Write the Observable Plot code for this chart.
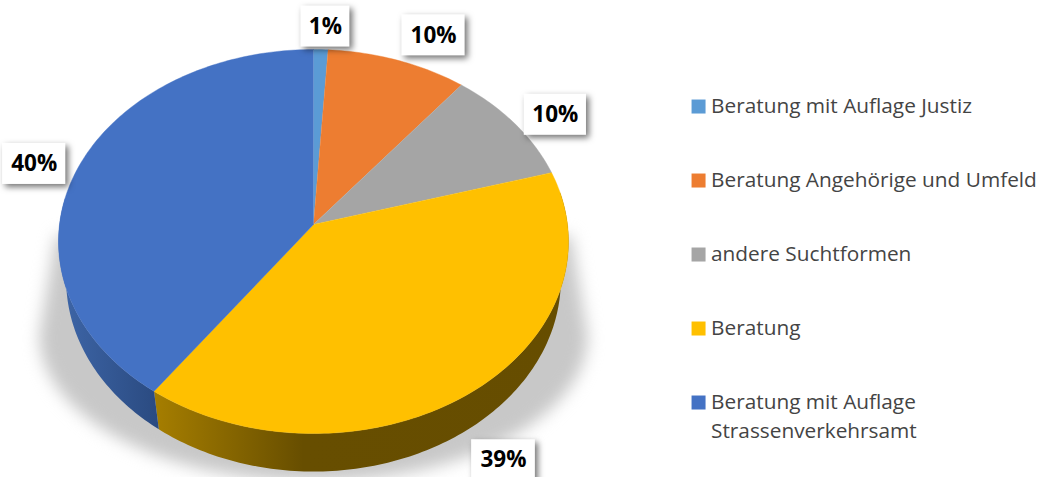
<!DOCTYPE html>
<html>
<head>
<meta charset="utf-8">
<style>
  html, body { margin: 0; padding: 0; background: #fff; overflow: hidden; }
  svg { display: block; }
</style>
<script src="https://cdn.jsdelivr.net/npm/d3@7"></script>
<script src="https://cdn.jsdelivr.net/npm/@observablehq/plot@0.6"></script>
</head>
<body>
<div id="chart"></div>
<script>
// --- data ---
const names = [
  "Beratung mit Auflage Justiz",
  "Beratung Angehörige und Umfeld",
  "andere Suchtformen",
  "Beratung",
  "Beratung mit Auflage\nStrassenverkehrsamt"
];
const shares = [1.0, 9.7, 9.8, 39.4, 40.1];
const colors = ["#5B9BD5", "#ED7D31", "#A5A5A5", "#FFC000", "#4472C4"];

// --- label placement relative to the rim, in chart units ---
const labelNudgeX = [0.018, 0.14, 0.16, 0.125, -0.172];
const labelNudgeY = [0.12, 0.13, 0.045, -0.355, 0.02];
const labelHalfWidth = [0.096, 0.124, 0.122, 0.125, 0.124];
const labelHalfHeight = 0.107;

// --- tilted-disc geometry: perspective shift of the centre and rim depth ---
const tilt = 0.0885;
const depthY = 0.198, depthX = 0.97;
const project = (deg) => {
  const t = deg * Math.PI / 180, u = Math.sin(t), v = Math.cos(t), d = 1 + tilt * v;
  return [u * Math.sqrt(1 - tilt * tilt) / d, (v + tilt) / d];
};
const cum = d3.cumsum(shares);
const total = cum[cum.length - 1];
const startDeg = shares.map((s, i) => (i ? cum[i - 1] : 0) / total * 360);
const endDeg = Array.from(cum, (c) => c / total * 360);
const arcDegs = (a, b) => d3.range(a, b, 1).concat([b]);

const topFaces = names.flatMap((name, i) => {
  const pts = arcDegs(startDeg[i], endDeg[i]).map((deg) => {
    const [x, y] = project(deg);
    return { name, x, y };
  });
  return [{ name, x: 0, y: tilt }, ...pts];
});

const side = (i) => {
  const degs = arcDegs(Math.max(startDeg[i], 80), Math.min(endDeg[i], 278));
  const upper = degs.map((deg) => { const [x, y] = project(deg); return { x, y }; });
  const lower = degs.slice().reverse().map((deg) => {
    const [x, y] = project(deg);
    return { x: x * depthX, y: y - depthY };
  });
  return upper.concat(lower);
};

const shadow = [{ x: -1.01, y: 0.03 }]
  .concat(d3.range(180, 361, 3).map((deg) => {
    const t = deg * Math.PI / 180;
    return { x: 1.075 * Math.cos(t), y: -0.49 + 0.76 * Math.sin(t) };
  }))
  .concat([{ x: 1.01, y: 0.03 }]);

const labels = names.map((name, i) => {
  const [x, y] = project((startDeg[i] + endDeg[i]) / 2);
  return {
    text: Math.round(shares[i]) + "%",
    x: x + labelNudgeX[i],
    y: y + labelNudgeY[i],
    hw: labelHalfWidth[i]
  };
});

const legend = names.map((name, i) => ({ name, x: 1.51, y: 0.703 - i * 0.3854 }));

const gradients = () => {
  const svg = d3.create("svg:defs");
  const add = (id, stops) => {
    const g = svg.append("linearGradient").attr("id", id);
    stops.forEach(([o, c]) => g.append("stop").attr("offset", o).attr("stop-color", c));
  };
  add("sideYellow", [["0%", "#a67e00"], ["36%", "#674e00"], ["100%", "#664d00"]]);
  add("sideBlue", [["0%", "#3e66a8"], ["100%", "#2a4a80"]]);
  return svg.node();
};

const fontFamily = "'Open Sans', sans-serif";

const chart = Plot.plot({
  width: 1041,
  height: 477,
  margin: 0,
  style: { background: "#fff", fontFamily },
  x: { domain: [-1, 1], range: [58, 568], axis: null },
  y: { domain: [-1, 1], range: [433, 49], axis: null },
  color: { domain: names, range: colors },
  marks: [
    gradients,
    Plot.line(shadow, {
      x: "x", y: "y", fill: "#c8c8c8", stroke: "none",
      imageFilter: "blur(8px)"
    }),
    Plot.line(side(3), { x: "x", y: "y", fill: "url(#sideYellow)", stroke: "none" }),
    Plot.line(side(4), { x: "x", y: "y", fill: "url(#sideBlue)", stroke: "none" }),
    Plot.line(topFaces, { x: "x", y: "y", z: "name", fill: "name", stroke: "name", strokeWidth: 0.4 }),
    Plot.rect(labels, {
      x1: (d) => d.x - d.hw, x2: (d) => d.x + d.hw,
      y1: (d) => d.y - labelHalfHeight, y2: (d) => d.y + labelHalfHeight,
      fill: "#fff",
      imageFilter: "drop-shadow(3px 3px 3px rgba(0,0,0,0.55))"
    }),
    Plot.text(labels, {
      x: "x", y: "y", text: "text", fontSize: 22.5, fontWeight: 700, fill: "#000",
      fontFamily
    }),
    Plot.dot(legend, { x: "x", y: "y", fill: "name", symbol: "square", r: 7.9 }),
    Plot.text(legend, {
      x: "x", y: "y", text: "name", dx: 12.5, dy: -13, textAnchor: "start", lineAnchor: "top",
      fontSize: 20.8, lineHeight: 1.35, fill: "#444", fontFamily
    })
  ]
});
document.getElementById("chart").appendChild(chart);
</script>
</body>
</html>
